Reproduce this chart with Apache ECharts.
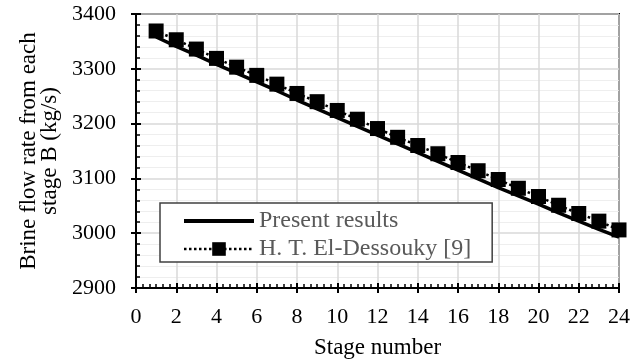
<!DOCTYPE html>
<html>
<head>
<meta charset="utf-8">
<script src="https://cdn.jsdelivr.net/npm/echarts@6/dist/echarts.min.js"></script>
<style>
html,body{margin:0;padding:0;background:#fff;}
#chart{width:632px;height:362px;}
</style>
</head>
<body>
<div id="chart"></div>
<script>
const stages = [1,2,3,4,5,6,7,8,9,10,11,12,13,14,15,16,17,18,19,20,21,22,23,24];
const presentResults = [3358,3341,3325,3308,3292,3276,3260,3243,3227,3211,3195,3179,3163,3147,3131,3115,3099,3083,3068,3053,3037,3022,3007,2993];
const elDessouky = [3369,3353,3336,3319,3303,3288,3272,3255,3240,3224,3208,3191,3175,3160,3145,3129,3114,3098,3082,3067,3051,3036,3022,3006];
const seriesNames = ['Present results', 'H. T. El-Dessouky [9]'];
const xTitle = 'Stage number';
const yTitle = 'Brine flow rate from each\nstage B (kg/s)';

const FONT = 'Liberation Serif';
const chart = echarts.init(document.getElementById('chart'), null, {renderer:'canvas'});

const baseX = {type:'value', min:0, max:24, interval:2};
const baseY = {type:'value', min:2900, max:3400, interval:100};

const option = {
  animation:false,
  backgroundColor:'#fff',
  grid:{left:136, right:13, top:14, bottom:74, containLabel:false, outerBoundsMode:'none', show:true, borderColor:'#000', borderWidth:2, backgroundColor:'transparent'},
  xAxis:[
    Object.assign({}, baseX, {
      axisLine:{lineStyle:{color:'#000', width:2}},
      axisTick:{inside:true, length:5, lineStyle:{color:'#000', width:2}},
      minorTick:{show:true, splitNumber:6, length:4, lineStyle:{color:'#000', width:1.5}},
      splitLine:{show:true, lineStyle:{color:'#d9d9d9', width:1.5}},
      axisLabel:{color:'#000', fontFamily:FONT, fontSize:22, margin:18},
      name:xTitle, nameLocation:'middle', nameGap:48,
      nameTextStyle:{color:'#000', fontFamily:FONT, fontSize:23}
    }),
    Object.assign({}, baseX, {
      position:'bottom',
      axisLine:{show:false},
      axisTick:{inside:false, length:5, lineStyle:{color:'#000', width:2}},
      axisLabel:{show:false}, splitLine:{show:false}
    })
  ],
  yAxis:[
    Object.assign({}, baseY, {
      axisLine:{lineStyle:{color:'#000', width:2}},
      axisTick:{inside:true, length:5, lineStyle:{color:'#000', width:2}},
      minorTick:{show:true, splitNumber:5, length:4, lineStyle:{color:'#000', width:1.5}},
      splitLine:{show:true, lineStyle:{color:'#d9d9d9', width:1.5}},
      minorSplitLine:{show:true, lineStyle:{color:'#eeeeee', width:1}},
      axisLabel:{color:'#000', fontFamily:FONT, fontSize:22, margin:20, formatter:(v)=>String(v)},
      name:yTitle, nameLocation:'middle', nameGap:74, nameRotate:90,
      nameTextStyle:{color:'#000', fontFamily:FONT, fontSize:23, lineHeight:21, align:'center'}
    }),
    Object.assign({}, baseY, {
      position:'left',
      axisLine:{show:false},
      axisTick:{inside:false, length:5, lineStyle:{color:'#000', width:2}},
      axisLabel:{show:false}, splitLine:{show:false}
    })
  ],
  legend:{
    orient:'vertical', left:160, top:203,
    data:[
      {name:seriesNames[0], itemStyle:{color:'rgba(0,0,0,0)', borderWidth:0, opacity:0}, lineStyle:{color:'#000', width:4, type:'solid'}},
      {name:seriesNames[1], lineStyle:{color:'#000', width:2.5, type:'dotted'}}
    ],
    itemWidth:70, itemHeight:17, itemGap:4,
    padding:[6,21,1,22],
    borderColor:'#404040', borderWidth:1.5, backgroundColor:'#fff',
    textStyle:{color:'#595959', fontFamily:FONT, fontSize:24}
  },
  series:[
    {
      name:seriesNames[0], type:'line', xAxisIndex:0, yAxisIndex:0,
      data:stages.map((s,i)=>[s, presentResults[i]]),
      showSymbol:false, symbol:'none',
      lineStyle:{color:'#000', width:3.5, type:'solid'},
      itemStyle:{color:'#000'}, z:2
    },
    {
      name:seriesNames[1], type:'line', xAxisIndex:0, yAxisIndex:0,
      data:stages.map((s,i)=>[s, elDessouky[i]]),
      symbol:'rect', symbolSize:15,
      lineStyle:{color:'#000', width:2.5, type:'dotted'},
      itemStyle:{color:'#000'}, z:3
    }
  ]
};
chart.setOption(option);
</script>
</body>
</html>
